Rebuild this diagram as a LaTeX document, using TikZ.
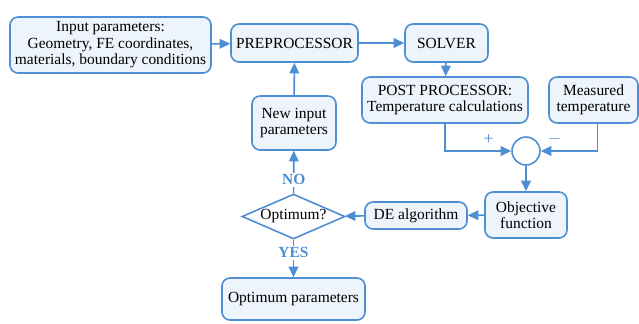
\documentclass[tikz,border=0pt]{standalone}
\usepackage{fontspec}
\setmainfont{Liberation Serif}
\usetikzlibrary{arrows.meta,shapes.geometric}
\definecolor{lineblue}{RGB}{78,142,210}
\definecolor{boxfill}{RGB}{238,244,251}
\tikzset{
  block/.style={draw=lineblue,fill=boxfill,line width=0.9pt,rounded corners=0.16cm,align=center,inner sep=1pt,font=\fontsize{8.8}{9.4}\selectfont},
  decision/.style={diamond,shape aspect=2.3,draw=lineblue,fill=white,line width=0.9pt,inner sep=0pt,font=\fontsize{8.8}{9.4}\selectfont},
  link/.style={draw=lineblue,line width=0.9pt,-{Triangle[length=6pt,width=5.5pt]}},
  answer/.style={text=lineblue,font=\fontsize{8.8}{9.4}\selectfont\bfseries},
  sign/.style={text=lineblue,font=\fontsize{10}{10}\selectfont,inner sep=1pt}
}
\begin{document}
\begin{tikzpicture}
            \useasboundingbox (0,0) rectangle (12.78,-6.46);
            \node[block,minimum width=4.02cm,minimum height=1.12cm] (inp) at (2.21,-0.90) {Input parameters:\\Geometry, FE coordinates,\\materials, boundary conditions};
            \node[block,minimum width=2.54cm,minimum height=0.76cm] (pre) at (5.89,-0.86) {PREPROCESSOR};
            \node[block,minimum width=1.66cm,minimum height=0.76cm] (sol) at (8.93,-0.86) {SOLVER};
            \node[block,minimum width=3.32cm,minimum height=0.92cm] (post) at (8.90,-2.00) {POST PROCESSOR:\\Temperature calculations};
            \node[block,minimum width=1.78cm,minimum height=0.92cm] (meas) at (11.87,-2.00) {Measured\\temperature};
            \node[circle,draw=lineblue,fill=white,line width=0.9pt,minimum size=0.56cm,inner sep=0pt] (sum) at (10.52,-3.02) {};
            \node[block,minimum width=1.64cm,minimum height=0.92cm] (obj) at (10.52,-4.30) {Objective\\function};
            \node[block,minimum width=2.04cm,minimum height=0.54cm] (de) at (8.32,-4.31) {DE algorithm};
            \node[decision,minimum width=2.06cm,minimum height=0.90cm] (opt) at (5.87,-4.33) {Optimum?};
            \node[block,minimum width=1.68cm,minimum height=1.08cm] (new) at (5.88,-2.46) {New input\\parameters};
            \node[block,minimum width=2.86cm,minimum height=0.84cm] (res) at (5.87,-5.98) {Optimum parameters};
            \draw[link] (inp) -- (pre);
            \draw[link] (pre) -- (sol);
            \draw[link] (sol) -- (post);
            \draw[link] (post.south) |- node[pos=0.83,above=2pt,sign]{+} (sum.west);
            \draw[link] ([xshift=0.08cm]meas.south) |- node[pos=0.88,above=2pt,sign]{$-$} (sum.east);
            \draw[link] (sum) -- (obj);
            \draw[link] (obj) -- (de);
            \draw[link] (de) -- (opt);
            \draw[link] (opt) -- node[pos=0.32,answer,fill=white,inner sep=1pt]{NO} (new);
            \draw[link] (new) -- (pre);
            \draw[link] (opt) -- node[pos=0.35,answer,fill=white,inner sep=1pt]{YES} (res);
        \end{tikzpicture}
\end{document}
